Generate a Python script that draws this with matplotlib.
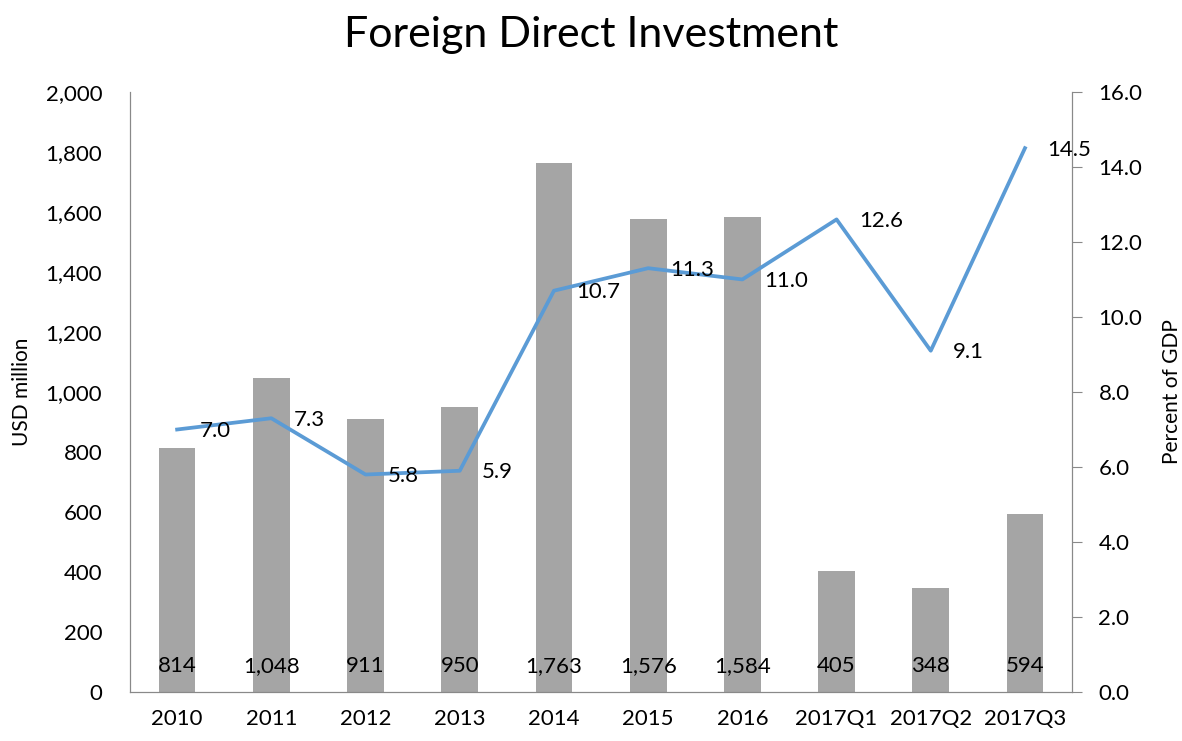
import matplotlib.pyplot as plt
from matplotlib.ticker import FuncFormatter, MultipleLocator

plt.rcParams['font.family'] = ['Lato', 'DejaVu Sans']

periods = ['2010', '2011', '2012', '2013', '2014', '2015', '2016',
           '2017Q1', '2017Q2', '2017Q3']
fdi_usd = [814, 1048, 911, 950, 1763, 1576, 1584, 405, 348, 594]
fdi_gdp = [7.0, 7.3, 5.8, 5.9, 10.7, 11.3, 11.0, 12.6, 9.1, 14.5]

bar_color = '#A5A5A5'
line_color = '#5B9BD5'
spine_color = '#898989'

fig = plt.figure(figsize=(11.82, 7.41), dpi=100)
ax = fig.add_axes([0.110, 0.066, 0.797, 0.810])
ax2 = ax.twinx()

x = list(range(len(periods)))
ax.bar(x, fdi_usd, width=0.39, color=bar_color, zorder=1)
for xi, v in zip(x, fdi_usd):
    ax.annotate(f'{v:,}', (xi, 0), xytext=(0, 19), textcoords='offset points',
                ha='center', va='center', fontsize=16)

ax2.plot(x, fdi_gdp, color=line_color, lw=2.7, zorder=3)
for xi, v in zip(x, fdi_gdp):
    ax2.annotate(f'{v:.1f}', (xi, v), xytext=(16, -1), textcoords='offset points',
                 ha='left', va='center', fontsize=16)

ax.set_xlim(-0.5, len(periods) - 0.5)
ax.set_ylim(0, 2000)
ax2.set_ylim(0, 16)
ax.yaxis.set_major_locator(MultipleLocator(200))
ax2.yaxis.set_major_locator(MultipleLocator(2))
ax.yaxis.set_major_formatter(FuncFormatter(lambda v, p: f'{int(v):,}'))
ax2.yaxis.set_major_formatter(FuncFormatter(lambda v, p: f'{v:.1f}'))

ax.set_xticks(x)
ax.set_xticklabels(periods)
ax.tick_params(axis='x', length=0, labelsize=16, pad=12)
ax.tick_params(axis='y', length=0, labelsize=16, pad=20)
ax2.tick_params(axis='y', length=7, color=spine_color, labelsize=16, pad=12)

for a in (ax, ax2):
    a.spines['top'].set_visible(False)
    for s in ('left', 'right', 'bottom'):
        a.spines[s].set_color(spine_color)

ax.set_ylabel('USD million', fontsize=15, labelpad=10)
ax2.set_ylabel('Percent of GDP', fontsize=15, labelpad=14)
fig.suptitle('Foreign Direct Investment', fontsize=31, y=0.978)

fig.savefig('out.png', dpi=100)
